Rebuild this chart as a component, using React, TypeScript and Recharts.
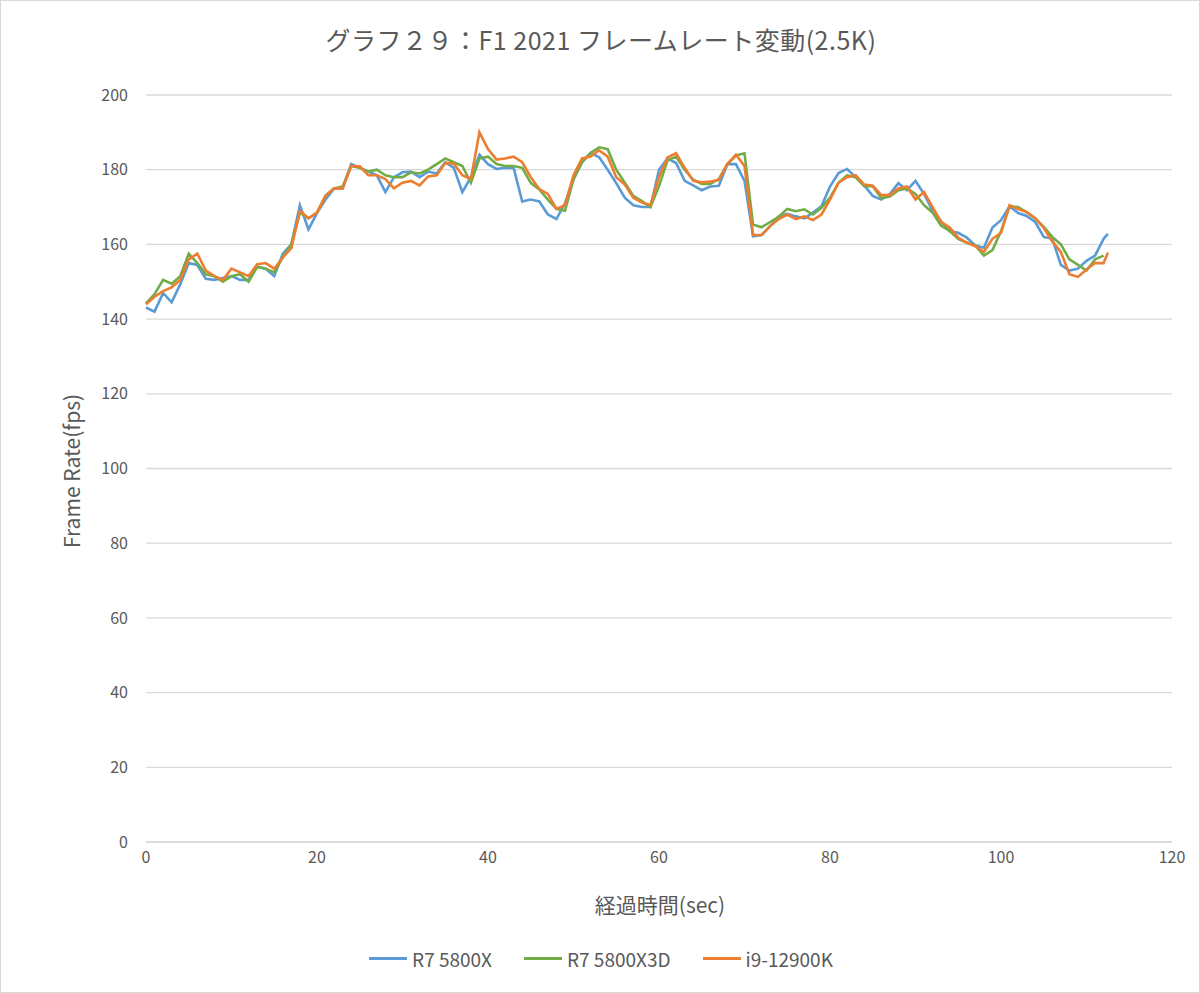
import React from 'react';
import { LineChart, Line, XAxis, YAxis, CartesianGrid } from 'recharts';

// 経過時間 (sec): 1秒刻み + 最終サンプル
const seconds = Array.from({ length: 113 }, (_, i) => i).concat([112.5]);

const r7_5800x = [
  143.1, 142, 147, 144.5, 149.3, 155, 154.5, 150.8, 150.5, 151,
  151.5, 150.5, 150.5, 154, 153.5, 151.5, 157.5, 160, 170.5, 164,
  168.4, 172, 175, 175, 181.5, 180.5, 179.5, 178.5, 174, 178,
  179.3, 179.5, 178, 179.5, 179, 182, 180.5, 174, 178, 184,
  181.5, 180.2, 180.5, 180.5, 171.5, 172, 171.5, 168, 166.8, 171,
  177.5, 182, 184.5, 183.3, 180, 176.4, 172.5, 170.5, 170, 170,
  180, 183, 181.8, 177, 175.8, 174.5, 175.5, 175.7, 181.5, 181.5,
  177, 162.2, 162.5, 164.9, 167.5, 168.2, 167.5, 167, 168.5, 170.2,
  175.5, 179.1, 180.2, 178, 175.8, 173, 172, 173.5, 176.4, 174.5,
  177, 173.5, 169, 166.2, 163.5, 163.1, 161.8, 159.7, 159.1, 164.5,
  166.5, 170.2, 168.4, 167.6, 166, 162, 161.5, 154.5, 153, 153.5,
  155.6, 157, 161.5, 162.8,
];

const r7_5800x3d = [
  144.2, 146.7, 150.5, 149.5, 151.5, 157.5, 155, 152, 151.5, 150,
  151.5, 152, 150, 154, 153.5, 152.5, 156.5, 160, 168.5, 167,
  168.5, 173, 175, 175.5, 181, 180.5, 179.5, 180, 178.5, 178,
  178, 179.3, 179, 180, 181.5, 183, 182, 181, 176.5, 183,
  183.5, 181.5, 181, 181, 180.5, 176.5, 174.7, 172, 169.5, 169,
  177.5, 182, 184.5, 186, 185.5, 180, 176.5, 173, 171.6, 170,
  175.6, 182.5, 183.5, 180, 177.3, 176.2, 176.2, 177.5, 181.5, 183.8,
  184.4, 165.3, 164.6, 166, 167.4, 169.5, 168.9, 169.4, 168, 169.8,
  172.5, 176.5, 178.5, 178, 175.6, 175.6, 172.4, 172.8, 174.5, 175,
  173.5, 170.5, 168.5, 165, 163.6, 161.5, 160.4, 159.7, 157, 158.5,
  163.5, 170.2, 170, 168.6, 167, 164.7, 162, 160, 156, 154.5,
  153, 156, 157, null,
];

const i9_12900k = [
  144, 146, 147.5, 148.5, 150.5, 156, 157.5, 153, 151.5, 150.5,
  153.5, 152.5, 151.5, 154.7, 155, 153.5, 156.5, 159, 169, 167,
  168.5, 173, 175, 175, 181, 180.9, 178.5, 178.5, 177.5, 175,
  176.5, 177, 175.8, 178.2, 178.5, 181.8, 181.6, 178.5, 177.5, 190,
  185.5, 182.7, 183, 183.5, 182, 178, 174.8, 173.5, 169.5, 170.5,
  178.5, 183, 183.5, 185.2, 183.5, 178, 176, 172.5, 171.2, 170.5,
  178, 183.3, 184.4, 180.5, 177, 176.6, 176.8, 177.3, 181.5, 184,
  181, 162.5, 162.5, 164.9, 166.8, 168, 166.8, 167.5, 166.5, 168,
  172, 176.5, 178, 178.5, 176, 175.7, 173.2, 173.2, 175, 175.5,
  172, 174, 170, 166, 164.5, 161.8, 160.5, 159.5, 158, 161.5,
  163.1, 170.5, 169.5, 168.7, 167, 164.4, 160.8, 158, 152, 151.3,
  153.3, 155, 155, 157.8,
];

const xTicks = [0, 20, 40, 60, 80, 100, 120];
const yTicks = [0, 20, 40, 60, 80, 100, 120, 140, 160, 180, 200];

const series = [
  { key: 'a', name: 'R7 5800X', color: '#5B9BD5' },
  { key: 'b', name: 'R7 5800X3D', color: '#70AD47' },
  { key: 'c', name: 'i9-12900K', color: '#ED7D31' },
];

const data = seconds.map((t, i) => ({
  t,
  a: r7_5800x[i],
  b: r7_5800x3d[i],
  c: i9_12900k[i],
}));

const FONT = '"Noto Sans CJK JP", "Noto Sans", sans-serif';
const TEXT = '#595959';
const GRID = '#d9d9d9';

export default function App() {
  const tick = { fill: TEXT, fontSize: 16, fontFamily: FONT };
  return (
    <div
      style={{
        position: 'absolute',
        left: 0,
        top: 0,
        width: 1200,
        height: 993,
        boxSizing: 'border-box',
        border: `1px solid ${GRID}`,
        background: '#fff',
        fontFamily: FONT,
      }}
    >
      <div
        style={{
          position: 'absolute',
          top: 20,
          left: 0,
          width: 1200,
          textAlign: 'center',
          fontSize: 25,
          letterSpacing: 0.5,
          color: TEXT,
        }}
      >
        グラフ２９：F1 2021 フレームレート変動(2.5K)
      </div>
      <div style={{ position: 'absolute', left: -1, top: -1 }}>
        <LineChart
          width={1200}
          height={993}
          data={data}
          margin={{ top: 95, right: 28, left: 86, bottom: 121 }}
        >
          <CartesianGrid vertical={false} stroke={GRID} strokeWidth={1.3} />
          <XAxis
            type="number"
            dataKey="t"
            domain={[0, 120]}
            ticks={xTicks}
            height={30}
            tick={tick}
            tickLine={false}
            tickMargin={4}
            axisLine={{ stroke: GRID, strokeWidth: 1.3 }}
          />
          <YAxis
            domain={[0, 200]}
            ticks={yTicks}
            width={60}
            tick={tick}
            tickLine={false}
            axisLine={false}
            tickMargin={12}
          />
          {series.map((s) => (
            <Line
              key={s.key}
              type="linear"
              dataKey={s.key}
              name={s.name}
              stroke={s.color}
              strokeWidth={2.6}
              dot={false}
              isAnimationActive={false}
            />
          ))}
        </LineChart>
      </div>
      <div
        style={{
          position: 'absolute',
          left: 70,
          top: 470,
          transform: 'translate(-50%, -50%) rotate(-90deg)',
          fontSize: 21,
          color: TEXT,
          whiteSpace: 'nowrap',
        }}
      >
        Frame Rate(fps)
      </div>
      <div
        style={{
          position: 'absolute',
          left: 146,
          width: 1026,
          top: 888,
          textAlign: 'center',
          fontSize: 21,
          color: TEXT,
        }}
      >
        経過時間(sec)
      </div>
      <div
        style={{
          position: 'absolute',
          top: 944,
          left: 0,
          width: 1200,
          display: 'flex',
          justifyContent: 'center',
          gap: 32,
          fontSize: 19,
          color: TEXT,
        }}
      >
        {series.map((s) => (
          <div key={s.key} style={{ display: 'flex', alignItems: 'center' }}>
            <span
              style={{
                display: 'inline-block',
                width: 38,
                height: 3,
                background: s.color,
                marginRight: 5,
              }}
            />
            {s.name}
          </div>
        ))}
      </div>
    </div>
  );
}
